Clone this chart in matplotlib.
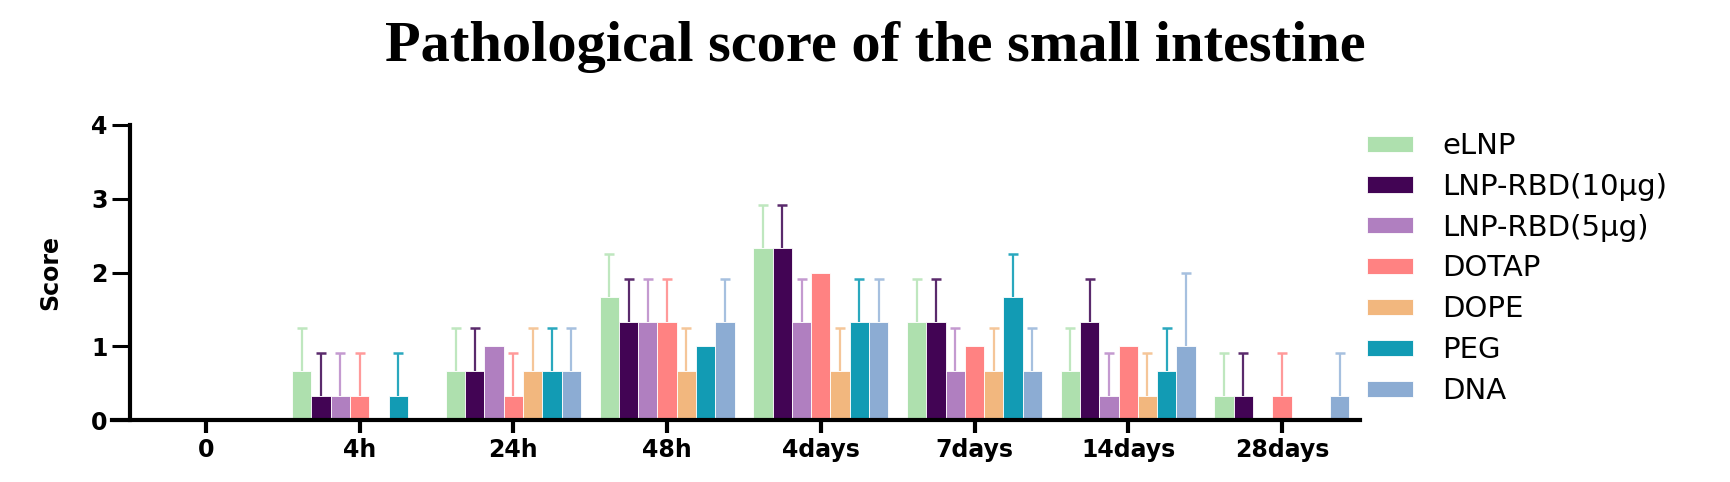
import matplotlib
matplotlib.use("Agg")
import matplotlib.pyplot as plt
import numpy as np

categories = ["0", "4h", "24h", "48h", "4days", "7days", "14days", "28days"]
series_names = ["eLNP", "LNP-RBD(10\u00b5g)", "LNP-RBD(5\u00b5g)", "DOTAP", "DOPE", "PEG", "DNA"]

eLNP = [0, 0.67, 0.67, 1.67, 2.33, 1.33, 0.67, 0.33]
lnp10 = [0, 0.33, 0.67, 1.33, 2.33, 1.33, 1.33, 0.33]
lnp5 = [0, 0.33, 1.00, 1.33, 1.33, 0.67, 0.33, 0]
dotap = [0, 0.33, 0.33, 1.33, 2.00, 1.00, 1.00, 0.33]
dope = [0, 0, 0.67, 0.67, 0.67, 0.67, 0.33, 0]
peg = [0, 0.33, 0.67, 1.00, 1.33, 1.67, 0.67, 0]
dna = [0, 0, 0.67, 1.33, 1.33, 0.67, 1.00, 0.33]

eLNP_sd = [0, 0.58, 0.58, 0.58, 0.58, 0.58, 0.58, 0.58]
lnp10_sd = [0, 0.58, 0.58, 0.58, 0.58, 0.58, 0.58, 0.58]
lnp5_sd = [0, 0.58, 0, 0.58, 0.58, 0.58, 0.58, 0]
dotap_sd = [0, 0.58, 0.58, 0.58, 0, 0, 0, 0.58]
dope_sd = [0, 0, 0.58, 0.58, 0.58, 0.58, 0.58, 0]
peg_sd = [0, 0.58, 0.58, 0, 0.58, 0.58, 0.58, 0]
dna_sd = [0, 0, 0.58, 0.58, 0.58, 0.58, 1.00, 0.58]

means = [eLNP, lnp10, lnp5, dotap, dope, peg, dna]
sds = [eLNP_sd, lnp10_sd, lnp5_sd, dotap_sd, dope_sd, peg_sd, dna_sd]
colors = ["#AEE0AE", "#420454", "#B07FC0", "#FF8282", "#F2B77E", "#129BB4", "#8CACD3"]
err_colors = ["#BFE7BF", "#5A2A6C", "#C49AD0", "#FF9A9A", "#F5C699", "#2AA8BE", "#A6C0DF"]

W, H = 1730, 482
fig = plt.figure(figsize=(W / 100, H / 100), dpi=100)

left_px, right_px = 112, 1360
top_px, bottom_px = 125, 420
ax = fig.add_axes([left_px / W, 1 - bottom_px / H, (right_px - left_px) / W, (bottom_px - top_px) / H])

first_tick, spacing = 206, 153.7
xlo = (left_px - first_tick) / spacing
xhi = (right_px - first_tick) / spacing
x = np.arange(len(categories))
w = 0.1255

for i, (m, s) in enumerate(zip(means, sds)):
    pos = x + (i - 3) * w
    ax.bar(pos, m, w, color=colors[i], edgecolor="white", linewidth=0.6, zorder=2, label=series_names[i])
    m_arr = np.array(m)
    s_arr = np.array(s)
    mask = s_arr > 0
    tops = m_arr[mask] + s_arr[mask]
    ax.vlines(pos[mask], m_arr[mask], tops, colors=err_colors[i], linewidth=1.6, zorder=1)
    ax.plot(pos[mask], tops, linestyle="none", marker="_", markersize=6.5,
            markeredgewidth=1.8, color=err_colors[i], zorder=1)

ax.set_xlim(xlo, xhi)
ax.set_ylim(0, 4)
ax.spines["top"].set_visible(False)
ax.spines["right"].set_visible(False)
yaxis_px = 130
ax.spines["left"].set_position(("data", (yaxis_px - first_tick) / spacing))
ax.spines["left"].set_linewidth(3.0)
ax.spines["bottom"].set_linewidth(3.0)
ax.spines["left"].set_bounds(0, 4)
ax.spines["left"].set_capstyle("projecting")

ax.set_xticks(x)
ax.set_xticklabels(categories, fontsize=17, fontweight="bold", family="DejaVu Sans")
ax.set_yticks([0, 1, 2, 3, 4])
ax.set_yticklabels(["0", "1", "2", "3", "4"], fontsize=17, fontweight="bold", family="DejaVu Sans")
ax.tick_params(axis="x", direction="out", length=9, width=3, pad=4)
ax.tick_params(axis="y", direction="out", length=13, width=2.2, pad=3)
ax.patch.set_alpha(0)

fig.text(50 / W, 1 - 272 / H, "Score", rotation=90, ha="center", va="center",
         fontsize=17, fontweight="bold", family="DejaVu Sans")

fig.text(875 / W, 1 - 47 / H, "Pathological score of the small intestine", ha="center", va="center",
         fontsize=42, fontweight="bold", family="Liberation Serif")

handles, labels = ax.get_legend_handles_labels()
fs = 21
px_per_fs = fs * 100 / 72
fig.legend(handles, labels, loc="upper left", bbox_to_anchor=(1367 / W, 1 - 132 / H),
           frameon=False, handlelength=46 / px_per_fs, handleheight=14 / px_per_fs,
           handletextpad=29 / px_per_fs, labelspacing=0.44, borderpad=0, borderaxespad=0,
           prop={"family": "DejaVu Sans", "size": fs})

fig.savefig("out.png", dpi=100)
